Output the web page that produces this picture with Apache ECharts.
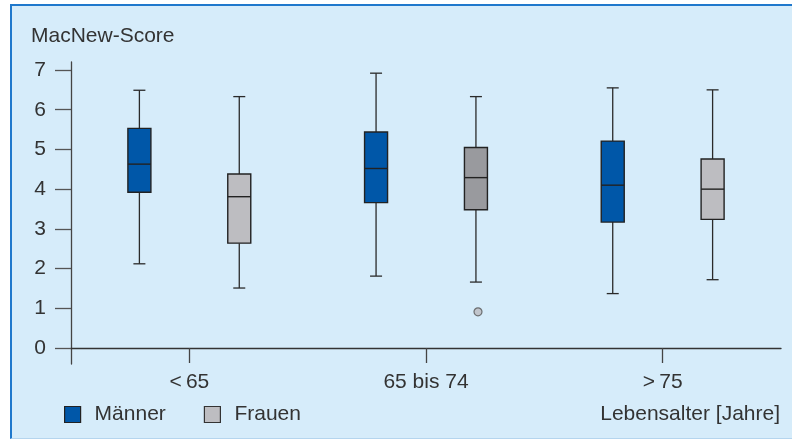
<!DOCTYPE html>
<html>
<head>
<meta charset="utf-8">
<script src="https://cdn.jsdelivr.net/npm/echarts@6/dist/echarts.min.js"></script>
<style>
  body { margin: 0; background: #fff; }
  .frame {
    position: absolute; left: 10px; top: 4px; width: 782px; height: 435px;
    background: #d6ecfa;
    border-left: 2px solid #1f78cc; border-top: 2px solid #1f78cc;
    border-bottom: 1px solid #b5d5ee;
    box-sizing: border-box;
  }
  #chart { position: absolute; left: 0; top: 0; width: 792px; height: 442px; }
</style>
</head>
<body>
<div class="frame"></div>
<div id="chart"></div>
<script>
// age groups on the x axis
const categories = ['<\u200965', '65 bis 74', '>\u200975'];

// [min, q1, median, q3, max] per age group
const maennerStats = [
  [2.12, 3.92, 4.63, 5.53, 6.49],
  [1.81, 3.66, 4.52, 5.44, 6.92],
  [1.37, 3.17, 4.10, 5.21, 6.55]
];
const frauenStats = [
  [1.51, 2.64, 3.81, 4.38, 6.33],
  [1.66, 3.48, 4.29, 5.05, 6.33],
  [1.72, 3.24, 4.00, 4.76, 6.50]
];
// [group index, value]
const frauenOutliers = [[1, 0.91]];

const maennerColor = '#0057a8';
const frauenColors = ['#bdbdc1', '#999a9e', '#bdbdc1'];
const textColor = '#333';
const fontFamily = '"Liberation Sans", Arial, sans-serif';

const makeBoxRenderer = (side, fills) => (params, api) => {
  const idx = api.value(0);
  const center = api.coord([idx, 0])[0];
  const band = api.size([1, 0])[0];
  const x = center + side * band * 0.211;
  const y = (i) => api.coord([idx, api.value(i)])[1];
  const [yMin, yQ1, yMed, yQ3, yMax] = [y(1), y(2), y(3), y(4), y(5)];
  const boxW = 23;
  const capW = 12;
  const line = { stroke: '#2a2a2a', lineWidth: 1.3 };
  return {
    type: 'group',
    children: [
      { type: 'line', shape: { x1: x, y1: yMax, x2: x, y2: yQ3 }, style: line },
      { type: 'line', shape: { x1: x, y1: yQ1, x2: x, y2: yMin }, style: line },
      { type: 'line', shape: { x1: x - capW / 2, y1: yMax, x2: x + capW / 2, y2: yMax }, style: line },
      { type: 'line', shape: { x1: x - capW / 2, y1: yMin, x2: x + capW / 2, y2: yMin }, style: line },
      {
        type: 'rect',
        shape: { x: x - boxW / 2, y: yQ3, width: boxW, height: yQ1 - yQ3 },
        style: { fill: fills[idx], stroke: '#222', lineWidth: 1.4 }
      },
      { type: 'line', shape: { x1: x - boxW / 2, y1: yMed, x2: x + boxW / 2, y2: yMed }, style: { stroke: '#222', lineWidth: 1.4 } }
    ]
  };
};

const chart = echarts.init(document.getElementById('chart'));

chart.setOption({
  textStyle: { fontFamily: fontFamily },
  animation: false,
  grid: [
    { left: 71, right: 11, top: 70, bottom: 94 },
    // only carries the y axis line, which runs a bit past 0 and 7
    { left: 71, right: 11, top: 62, bottom: 78 }
  ],
  title: [
    {
      text: 'MacNew-Score', left: 31, top: 26, padding: 0,
      textStyle: { fontSize: 21, fontWeight: 'normal', color: textColor, fontFamily: fontFamily }
    },
    {
      text: 'Lebensalter [Jahre]', right: 12, top: 404, padding: 0,
      textStyle: { fontSize: 21, fontWeight: 'normal', color: textColor, fontFamily: fontFamily }
    }
  ],
  legend: {
    left: 64, top: 404, padding: 0,
    selectedMode: false,
    itemWidth: 16, itemHeight: 16, itemGap: 38,
    icon: 'rect',
    textStyle: { fontSize: 21, color: textColor, padding: [0, 0, 0, 9] },
    data: [
      { name: 'Männer', itemStyle: { color: maennerColor, borderColor: '#222', borderWidth: 1.2 } },
      { name: 'Frauen', itemStyle: { color: frauenColors[0], borderColor: '#333', borderWidth: 1.2 } }
    ]
  },
  xAxis: [
    {
      type: 'category',
      gridIndex: 0,
      data: categories,
      boundaryGap: true,
      axisLine: { lineStyle: { color: '#333', width: 1.3 } },
      axisTick: { show: true, alignWithLabel: true, length: 15, lineStyle: { color: '#444', width: 1.3 } },
      axisLabel: { fontSize: 21, color: textColor, margin: 24 },
      splitLine: { show: false }
    },
    { type: 'category', gridIndex: 1, data: categories, show: false }
  ],
  yAxis: [
    {
      type: 'value',
      gridIndex: 0,
      min: 0,
      max: 7,
      interval: 1,
      axisLine: { show: false },
      axisTick: { show: true, length: 16, lineStyle: { color: '#555', width: 1.3 } },
      axisLabel: { fontSize: 21, color: textColor, margin: 25 },
      splitLine: { show: false }
    },
    {
      type: 'value',
      gridIndex: 1,
      min: 0,
      max: 1,
      axisLine: { show: true, lineStyle: { color: '#444', width: 1.3 } },
      axisTick: { show: false },
      axisLabel: { show: false },
      splitLine: { show: false }
    }
  ],
  series: [
    {
      name: 'Männer',
      type: 'custom',
      itemStyle: { color: maennerColor },
      renderItem: makeBoxRenderer(-1, categories.map(() => maennerColor)),
      encode: { x: 0, y: [1, 2, 3, 4, 5] },
      data: maennerStats.map((s, i) => [i, ...s])
    },
    {
      name: 'Frauen',
      type: 'custom',
      itemStyle: { color: frauenColors[0] },
      renderItem: makeBoxRenderer(1, frauenColors),
      encode: { x: 0, y: [1, 2, 3, 4, 5] },
      data: frauenStats.map((s, i) => [i, ...s])
    },
    {
      name: 'Ausreißer',
      type: 'scatter',
      symbol: 'circle',
      symbolSize: 8,
      symbolOffset: [52, 0],
      itemStyle: { color: '#bbbcc0', borderColor: '#555', borderWidth: 1.2 },
      data: frauenOutliers
    }
  ]
});
</script>
</body>
</html>
